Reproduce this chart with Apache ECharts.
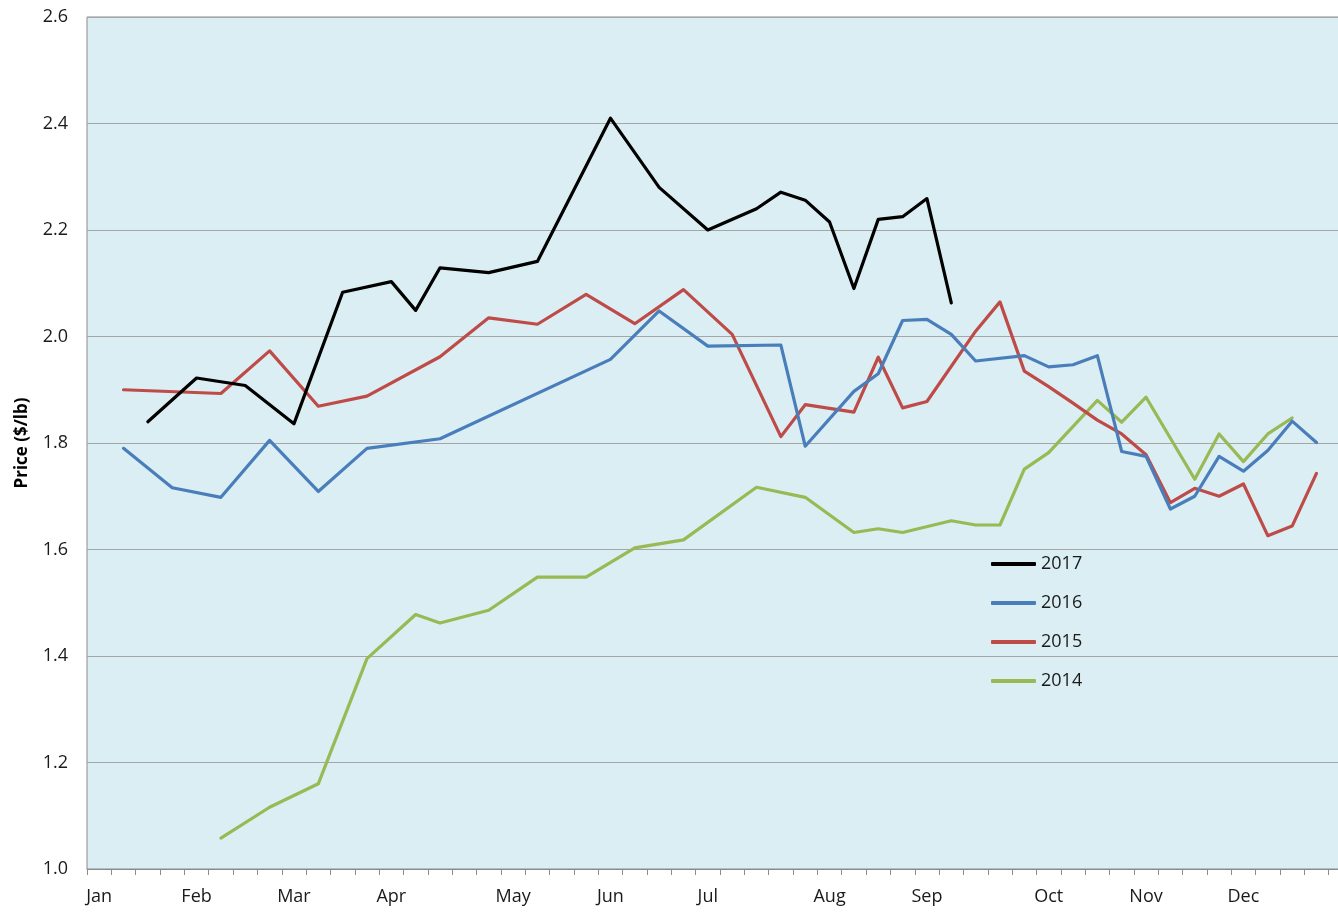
<!DOCTYPE html>
<html>
<head>
<meta charset="utf-8">
<script src="https://cdn.jsdelivr.net/npm/echarts@6/dist/echarts.min.js"></script>
<style>
html,body{margin:0;padding:0;background:#fff;}
#chart{width:1338px;height:912px;}
</style>
</head>
<body>
<div id="chart"></div>
<script>
// Weekly categories (52 weeks), month labels at the first week of each month
const weekCount = 52;
const monthNames = ['Jan','Feb','Mar','Apr','May','Jun','Jul','Aug','Sep','Oct','Nov','Dec'];
const monthWeeks = [0, 4, 8, 12, 17, 21, 25, 30, 34, 39, 43, 47];

const seriesNames = ['2017', '2016', '2015', '2014'];

const y2017 = [null, null, 1.840, null, 1.922, null, 1.908, null, 1.836, null, 2.083, null, 2.103, 2.049, 2.129, null, 2.120, null, 2.141, null, null, 2.410, null, 2.280, null, 2.200, null, 2.240, 2.271, 2.256, 2.215, 2.090, 2.220, 2.225, 2.259, 2.063];

const y2016 = [null, 1.790, null, 1.716, null, 1.698, null, 1.805, null, 1.709, null, 1.790, null, null, 1.808, null, null, null, null, null, null, 1.957, null, 2.048, null, 1.982, null, null, 1.984, 1.794, null, 1.897, 1.930, 2.030, 2.032, 2.004, 1.954, null, 1.964, 1.943, 1.947, 1.964, 1.784, 1.775, 1.676, 1.700, 1.775, 1.747, 1.786, 1.841, 1.801, null];

const y2015 = [null, 1.900, null, null, null, 1.893, null, 1.973, null, 1.869, null, 1.888, null, null, 1.962, null, 2.035, null, 2.023, null, 2.079, null, 2.024, null, 2.088, null, 2.004, null, 1.812, 1.872, null, 1.858, 1.961, 1.866, 1.878, null, 2.010, 2.065, 1.935, 1.906, 1.875, 1.843, 1.817, 1.778, 1.688, 1.715, 1.700, 1.723, 1.626, 1.644, 1.743, null];

const y2014 = [null, null, null, null, null, 1.058, null, 1.116, null, 1.160, null, 1.395, null, 1.478, 1.462, null, 1.486, null, 1.548, null, 1.548, null, 1.603, null, 1.618, null, null, 1.717, null, 1.698, null, 1.632, 1.639, 1.632, null, 1.654, 1.646, 1.646, 1.751, 1.782, null, 1.880, 1.839, 1.886, null, 1.732, 1.817, 1.765, 1.817, 1.847, null, null];

const yMin = 1.0, yMax = 2.6, yStep = 0.2;

// build categories
const categories = [];
for (let i = 0; i < weekCount; i++) categories.push('W' + (i + 1));
const labelMap = {};
monthWeeks.forEach((w, k) => { labelMap[w] = monthNames[k]; });

const colors = {'2017': '#000000', '2016': '#4a7ebb', '2015': '#be4b48', '2014': '#98b954'};
const dataMap = {'2017': y2017, '2016': y2016, '2015': y2015, '2014': y2014};

const FONT = '"Open Sans", "Liberation Sans", sans-serif';

const chart = echarts.init(document.getElementById('chart'), null, {renderer: 'canvas'});

const drawOrder = ['2014', '2015', '2016', '2017'];
const series = drawOrder.map((name, k) => ({
  name: name,
  type: 'line',
  data: dataMap[name],
  connectNulls: true,
  symbol: 'none',
  showSymbol: false,
  z: 2 + k,
  lineStyle: {color: colors[name], width: 3.2, cap: 'round', join: 'round'},
  itemStyle: {color: colors[name]},
  emphasis: {disabled: true},
  animation: false
}));

chart.setOption({
  animation: false,
  backgroundColor: '#ffffff',
  grid: {
    left: 87, top: 17, width: 1266, height: 852,
    show: true,
    backgroundColor: '#daeef3',
    borderColor: '#8c8c8c',
    borderWidth: 1,
    containLabel: false,
    outerBoundsMode: 'none'
  },
  legend: {
    data: seriesNames,
    orient: 'vertical',
    left: 991,
    top: 554,
    padding: 0,
    itemWidth: 45,
    itemHeight: 4,
    itemGap: 19,
    icon: 'roundRect',
    selectedMode: false,
    textStyle: {fontFamily: FONT, fontSize: 18, color: '#1a1a1a', lineHeight: 20}
  },
  xAxis: {
    type: 'category',
    data: categories,
    boundaryGap: true,
    axisLine: {show: true, lineStyle: {color: '#8c8c8c', width: 1}},
    axisTick: {show: true, interval: 0, length: 6, lineStyle: {color: '#8c8c8c'}},
    axisLabel: {
      interval: 0,
      margin: 19,
      fontFamily: FONT,
      fontSize: 18,
      color: '#1a1a1a',
      formatter: function (v, i) { return labelMap[i] || ''; }
    },
    splitLine: {show: false}
  },
  yAxis: {
    type: 'value',
    min: yMin,
    max: yMax,
    interval: yStep,
    name: 'Price ($/lb)',
    nameLocation: 'middle',
    nameRotate: 90,
    nameGap: 56,
    nameTextStyle: {fontFamily: FONT, fontSize: 17, fontWeight: 'bold', color: '#000'},
    axisLine: {show: false},
    axisTick: {show: false},
    axisLabel: {
      margin: 19,
      fontFamily: FONT,
      fontSize: 18,
      color: '#1a1a1a',
      formatter: function (v) { return v.toFixed(1); }
    },
    splitLine: {show: true, lineStyle: {color: '#a6a6a6', width: 1}}
  },
  series: series
});
</script>
</body>
</html>
